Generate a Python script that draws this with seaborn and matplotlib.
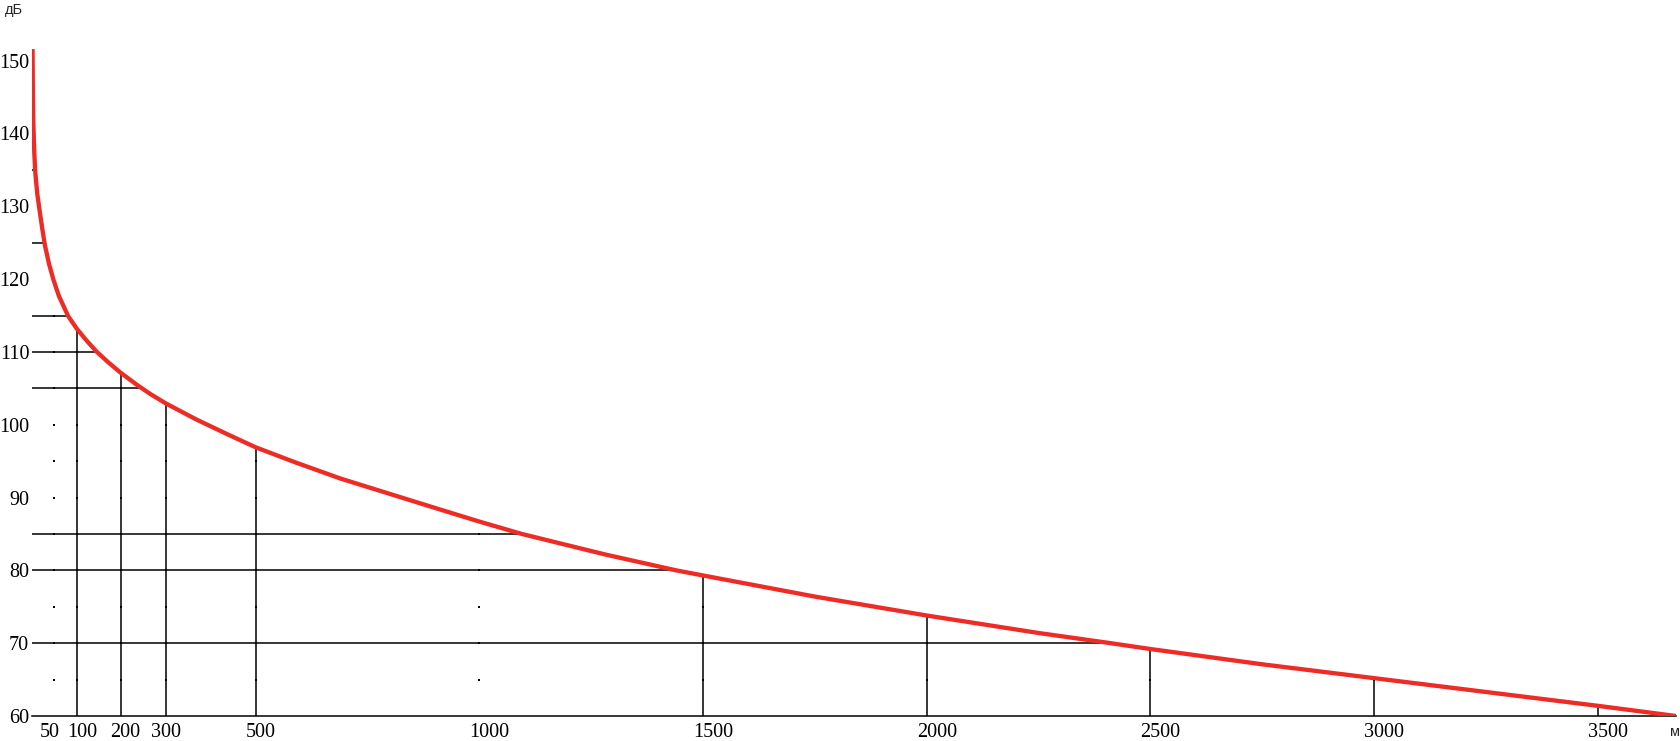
import numpy as np
import matplotlib
matplotlib.use("Agg")
import matplotlib.pyplot as plt
import matplotlib.transforms as mtransforms
import seaborn as sns

# Sound level vs distance
distance_m = [1.2, 2, 3, 5, 7, 9, 12, 18, 23, 29, 38, 48, 60, 81, 100, 120, 145,
              170, 197, 234, 265, 300, 368, 440, 500, 590, 690, 800, 910, 1000,
              1095, 1280, 1440, 1500, 1750, 2000, 2250, 2400, 2500, 2750, 3000,
              3250, 3500, 3675]
level_db = [151.6, 145.5, 141.5, 137.5, 135.0, 133.5, 131.6, 129.0, 126.9, 124.6,
            122.1, 119.9, 117.7, 114.9, 113.2, 111.7, 110.0, 108.6, 107.2, 105.5,
            104.2, 102.9, 100.7, 98.6, 96.9, 94.8, 92.6, 90.5, 88.4, 86.7,
            85.0, 82.2, 80.0, 79.3, 76.4, 73.8, 71.4, 70.1, 69.2, 67.1, 65.2,
            63.3, 61.4, 60.0]

x_ticks = [50, 100, 200, 300, 500, 1000, 1500, 2000, 2500, 3000, 3500]
y_ticks = [60, 70, 80, 90, 100, 110, 120, 130, 140, 150]
grid_levels = list(range(65, 155, 5))

# solid guide lines drawn from the axes to the curve
h_levels = [145, 135, 125, 115, 110, 105, 85, 80, 70]
v_distances = [100, 200, 300, 500, 1500, 2000, 2500, 3000, 3500]

sns.set_style("white")
plt.rcParams["font.family"] = ["Liberation Serif", "DejaVu Serif"]

red = "#ee2b24"
W, H = 1680, 741
fig = plt.figure(figsize=(W / 100, H / 100), dpi=100)
ax = fig.add_axes([32 / W, 25 / H, (1676 - 32) / W, 667 / H])

d = np.array(distance_m)
l = np.array(level_db)

# grid dots below the curve
gx, gy = [], []
for xv in x_ticks:
    top = np.interp(xv, d, l)
    for yv in grid_levels:
        if yv < top:
            gx.append(xv)
            gy.append(yv)
ax.scatter(gx, gy, s=3, color="black", marker="s", linewidths=0, zorder=2)

ax.vlines(v_distances, 60, np.interp(v_distances, d, l), color="black", lw=1.1, zorder=3)
ax.hlines(h_levels, 0, np.interp(h_levels, l[::-1], d[::-1]), color="black", lw=1.1, zorder=3)

sns.lineplot(x=distance_m, y=level_db, ax=ax, color=red, lw=3.1, zorder=5)

ax.set_xlim(0, 3675)
ax.set_ylim(60, 151.6)
for s in ["left", "top", "right"]:
    ax.spines[s].set_visible(False)
ax.spines["bottom"].set_color("black")
ax.spines["bottom"].set_linewidth(1.1)
ax.spines["bottom"].set_zorder(4)

ax.set_xticks(x_ticks)
ax.set_xticklabels([str(v) for v in x_ticks])
ax.set_yticks(y_ticks)
ax.set_yticklabels([str(v) for v in y_ticks])
ax.tick_params(axis="both", length=0, labelsize=14.5, colors="black")
ax.tick_params(axis="x", pad=5)
ax.tick_params(axis="y", pad=2)
ax.set_xlabel("")
ax.set_ylabel("")

# labels sit slightly off their ticks in the reference (pixels)
label_shift = {50: -5, 100: 6, 200: 4, 300: 0, 500: 5}
for lab, v in zip(ax.get_xticklabels(), x_ticks):
    shift = label_shift.get(v, 10)
    lab.set_transform(lab.get_transform() + mtransforms.ScaledTranslation(shift / 100, 0, fig.dpi_scale_trans))

fig.text(5 / W, 1 - 3 / H, "дБ", ha="left", va="top", fontsize=10.5,
         family=["Liberation Sans", "DejaVu Sans"])
fig.text(1670 / W, 2 / H, "м", ha="left", va="bottom", fontsize=10.5,
         family=["Liberation Sans", "DejaVu Sans"])

fig.savefig("out.png", dpi=100, facecolor="white")
